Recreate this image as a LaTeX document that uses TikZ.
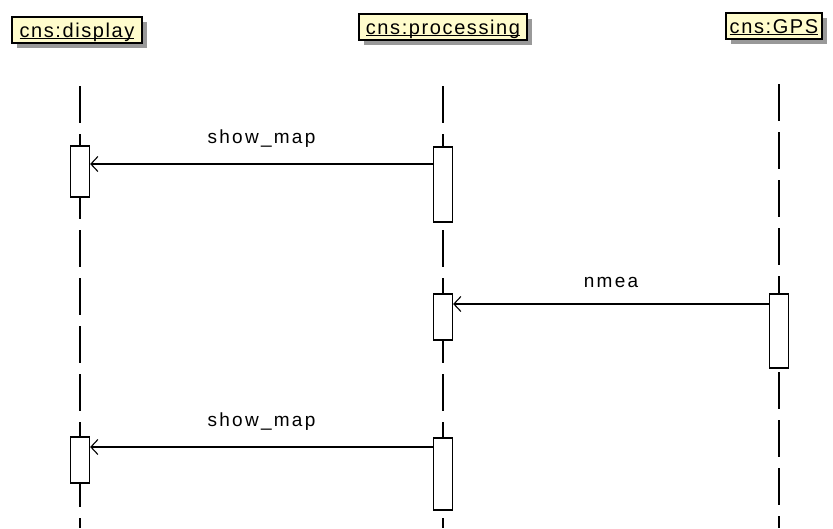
\documentclass[tikz,border=0pt]{standalone}
\usepackage{fontspec}
\setmainfont{Liberation Sans}
\newfontfamily\hdrfont[LetterSpace=8]{Liberation Sans}
\newfontfamily\msgfont[LetterSpace=12]{Liberation Sans}
\usetikzlibrary{arrows.meta,shadows}
% underlined object name with the rule a little below the baseline
\newcommand\objname[1]{\setbox0\hbox{#1}\rlap{\rule[-2.4pt]{\wd0}{1.2pt}}\box0}
\begin{document}
\begin{tikzpicture}[x=1pt,y=-1pt,
  header/.style={draw=black, line width=1.3pt, fill=yellow!20, minimum height=26pt,
    inner xsep=0pt, inner ysep=0pt, text height=14pt, text depth=0pt,
    font=\hdrfont\fontsize{20}{22}\selectfont,
    drop shadow={shadow xshift=5pt, shadow yshift=-5pt, fill=black!40, opacity=1}},
  lifeline/.style={line width=1.3pt, dash pattern=on 37pt off 11pt},
  activation/.style={draw=black, line width=1.3pt, fill=white, minimum width=19pt, inner sep=0pt},
  message/.style={line width=1.2pt, -{Straight Barb[length=7pt,width=15pt,line width=1.1pt]}},
  msglabel/.style={font=\msgfont\fontsize{19}{21}\selectfont, inner sep=0pt}
]
\useasboundingbox (0,0) rectangle (833,528);

% object headers
\node[header, minimum width=130pt] (hd) at (77,30) {\objname{cns:display}};
\node[header, minimum width=168pt] (hp) at (443,27) {\objname{cns:processing}};
\node[header, minimum width=96pt]  (hg) at (774,26) {\objname{cns:GPS}};

% lifelines
\coordinate (ld0) at (80,86);  \coordinate (ld1) at (80,528);
\coordinate (lp0) at (443,86); \coordinate (lp1) at (443,528);
\coordinate (lg0) at (779,84); \coordinate (lg1) at (779,528);
\draw[lifeline] (ld0) -- (ld1);
\draw[lifeline] (lp0) -- (lp1);
\draw[lifeline] (lg0) -- (lg1);

% activation bars
\node[activation, minimum height=51pt] (ad1) at (80,171.5) {};
\node[activation, minimum height=75pt] (ap1) at (443,184.5) {};
\node[activation, minimum height=46pt] (ap2) at (443,317) {};
\node[activation, minimum height=74pt] (ag1) at (779,331) {};
\node[activation, minimum height=46pt] (ad2) at (80,460) {};
\node[activation, minimum height=72pt] (ap3) at (443,474) {};

% messages
\draw[message] (ap1.west |- 0,164) -- (ad1.east |- 0,164)
  node[msglabel, midway, above=16pt] (m1) {show\_map};
\draw[message] (ag1.west |- 0,304) -- (ap2.east |- 0,304)
  node[msglabel, midway, above=16pt] (m2) {nmea};
\draw[message] (ap3.west |- 0,447) -- (ad2.east |- 0,447)
  node[msglabel, midway, above=16pt] (m3) {show\_map};
\end{tikzpicture}
\end{document}
